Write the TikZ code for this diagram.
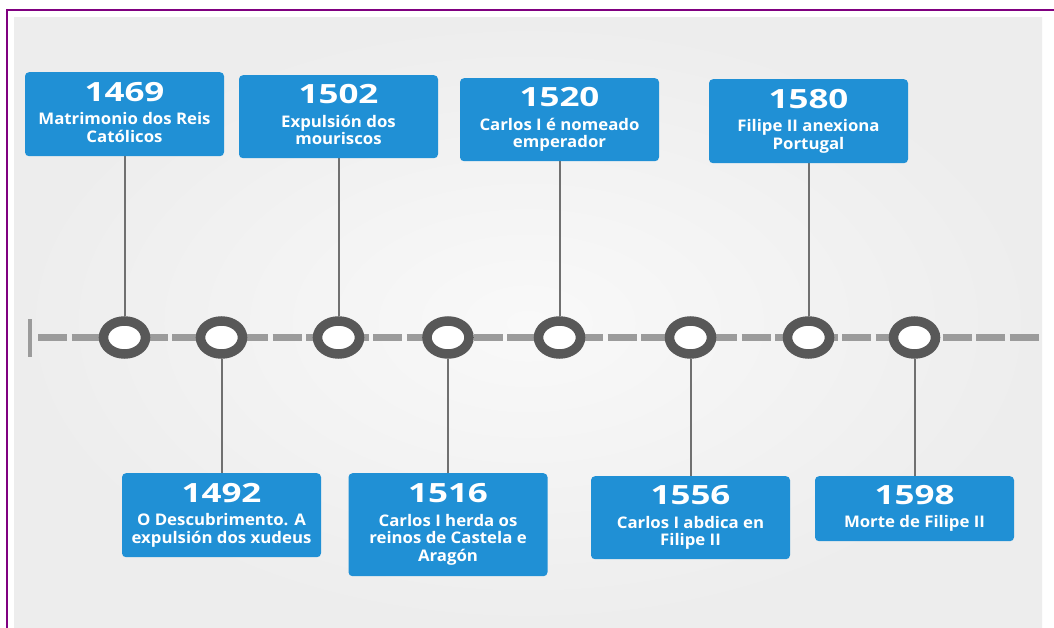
\documentclass[tikz,border=0pt]{standalone}
\usepackage{fontspec}
\setmainfont{Open Sans}
\newfontfamily\yrfam{Open Sans}[FakeStretch=1.32]
\newfontfamily\dsfam{Open Sans}[FakeStretch=1.05]
\usetikzlibrary{shapes.geometric}
\definecolor{evblue}{RGB}{32,144,213}
\definecolor{ringgray}{RGB}{88,88,88}
\definecolor{stemgray}{RGB}{112,112,112}
\definecolor{axisgray}{RGB}{155,155,155}
\definecolor{bglight}{RGB}{249,249,249}
\definecolor{bgdark}{RGB}{237,237,237}
\definecolor{framepurple}{RGB}{128,0,128}
\pgfdeclarelayer{bglayer}
\pgfdeclarelayer{linelayer}
\pgfsetlayers{bglayer,linelayer,main}
\tikzset{
  evbox/.style={fill=evblue, rounded corners=4pt, text=white, align=center,
    inner sep=0pt, minimum width=199pt, anchor=north,
    font=\dsfam\bfseries\fontsize{16}{17.75}\selectfont},
  ring/.style={ellipse, draw=ringgray, fill=white, line width=9.5pt,
    minimum width=42pt, minimum height=33pt, inner sep=0pt},
  stem/.style={draw=stemgray, line width=2pt},
  axis/.style={draw=axisgray, line width=7pt, dash pattern=on 29pt off 4.5pt},
  axisbar/.style={draw=axisgray, line width=4.5pt},
  frameline/.style={draw=framepurple, line width=2.5pt},
}
\newcommand\yr[1]{{\yrfam\bfseries\fontsize{26.5}{26.5}\selectfont #1}\\[5.5pt]}
\newcommand\lastdp{\rule[-4pt]{0pt}{4pt}}
\begin{document}
\begin{tikzpicture}[x=1pt,y=-1pt]
\useasboundingbox (0,0) rectangle (1054,628);
\begin{pgfonlayer}{bglayer}
  \fill[white] (0,0) rectangle (1054,628);
  \shade[inner color=bglight, outer color=bgdark] (14,18) rectangle (1042,628);
  \draw[frameline] (6,10) -- (1054,10);
  \draw[frameline] (7,9) -- (7,628);
\end{pgfonlayer}

% event boxes (top)
\node[evbox, minimum height=84pt] (b1469) at (124.5,72) {\yr{1469}Matrimonio dos Reis\\Católicos\lastdp};
\node[evbox, minimum height=83pt] (b1502) at (338.5,75) {\yr{1502}Expulsión dos\\mouriscos\lastdp};
\node[evbox, minimum height=83pt] (b1520) at (559.5,78) {\yr{1520}Carlos I é nomeado\\emperador\lastdp};
\node[evbox, minimum height=84pt] (b1580) at (808.5,79) {\yr{1580}Filipe II anexiona\\Portugal\lastdp};
% event boxes (bottom)
\node[evbox, minimum height=84pt] (b1492) at (221.5,473) {\yr{1492}O Descubrimento. A\\expulsión dos xudeus\lastdp};
\node[evbox, minimum height=103pt] (b1516) at (448,473) {\yr{1516}Carlos I herda os\\reinos de Castela e\\Aragón\lastdp};
\node[evbox, minimum height=83pt] (b1556) at (690.5,476) {\yr{1556}Carlos I abdica en\\Filipe II\lastdp};
\node[evbox, minimum height=65pt] (b1598) at (914.5,476) {\yr{1598}Morte de Filipe II\lastdp};

% rings on the timeline
\node[ring] (c1469) at (124.5,337.5) {};
\node[ring] (c1492) at (221.5,337.5) {};
\node[ring] (c1502) at (338.5,337.5) {};
\node[ring] (c1516) at (448,337.5) {};
\node[ring] (c1520) at (559.5,337.5) {};
\node[ring] (c1556) at (690.5,337.5) {};
\node[ring] (c1580) at (808.5,337.5) {};
\node[ring] (c1598) at (914.5,337.5) {};

\coordinate (tlA) at (38,337.5);
\coordinate (tlB) at (1042,337.5);
\coordinate (barT) at (30,319);
\coordinate (barB) at (30,357);

\begin{pgfonlayer}{linelayer}
  \draw[axis] (tlA) -- (tlB);
  \draw[axisbar] (barT) -- (barB);
  \draw[stem] (b1469.south) -- (c1469.north);
  \draw[stem] (b1502.south) -- (c1502.north);
  \draw[stem] (b1520.south) -- (c1520.north);
  \draw[stem] (b1580.south) -- (c1580.north);
  \draw[stem] (c1492.south) -- (b1492.north);
  \draw[stem] (c1516.south) -- (b1516.north);
  \draw[stem] (c1556.south) -- (b1556.north);
  \draw[stem] (c1598.south) -- (b1598.north);
\end{pgfonlayer}
\end{tikzpicture}
\end{document}
